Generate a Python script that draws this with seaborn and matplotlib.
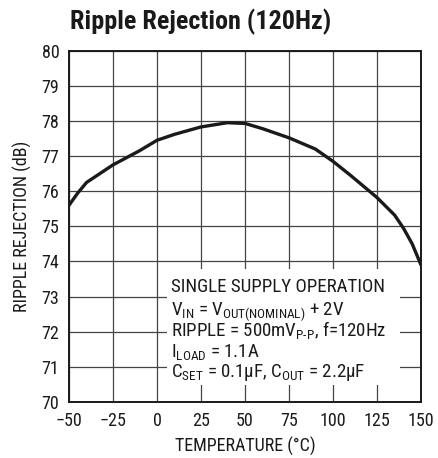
import pandas as pd
import seaborn as sns
import matplotlib.pyplot as plt
from matplotlib.patches import Rectangle

# Dados
temperatura = [-50, -45, -40, -25, -10, 0, 10, 25, 40, 50, 60, 75, 90, 100, 110, 125, 135, 140, 145, 150]
rejeicao = [75.6, 75.95, 76.25, 76.75, 77.15, 77.45, 77.62, 77.83, 77.95, 77.93, 77.78, 77.52,
            77.2, 76.85, 76.45, 75.82, 75.32, 74.95, 74.5, 73.9]
xticks = [-50, -25, 0, 25, 50, 75, 100, 125, 150]
xticklabels = ["\u221250", "\u221225", "0", "25", "50", "75", "100", "125", "150"]
yticks = list(range(70, 81))
notas = [
    "SINGLE SUPPLY OPERATION",
    r"V$_{\mathrm{IN}}$ = V$_{\mathrm{OUT(NOMINAL)}}$ + 2V",
    r"RIPPLE = 500mV$_{\mathrm{P}\text{-}\mathrm{P}}$, f=120Hz",
    r"I$_{\mathrm{LOAD}}$ = 1.1A",
    r"C$_{\mathrm{SET}}$ = 0.1μF, C$_{\mathrm{OUT}}$ = 2.2μF",
]

df = pd.DataFrame({"temp": temperatura, "rr": rejeicao})

sns.set_style("white")
fontes = ["Roboto Condensed", "Liberation Sans Narrow", "DejaVu Sans Condensed", "Liberation Sans", "DejaVu Sans"]
plt.rcParams["font.family"] = fontes
plt.rcParams["mathtext.fontset"] = "custom"
plt.rcParams["mathtext.rm"] = "Roboto Condensed"
plt.rcParams["mathtext.it"] = "Roboto Condensed"
plt.rcParams["mathtext.bf"] = "Roboto Condensed:bold"

fig = plt.figure(figsize=(4.38, 4.58), dpi=100)
ax = fig.add_axes([0.1575, 0.1223, 0.8037, 0.767])

sns.lineplot(data=df, x="temp", y="rr", ax=ax, color="#1a1a1a", linewidth=2.4, zorder=4)

ax.set_xlim(-50, 150)
ax.set_ylim(70, 80)
ax.set_xticks(xticks)
ax.set_xticklabels(xticklabels)
ax.set_yticks(yticks)
ax.grid(True, color="#444444", linewidth=0.9)
ax.set_axisbelow(True)
ax.tick_params(length=0, labelsize=13, pad=7, colors="#1a1a1a")
for s in ax.spines.values():
    s.set_color("#1a1a1a")
    s.set_linewidth(1.4)

ax.set_xlabel("TEMPERATURE (\u00b0C)", fontsize=13, color="#1a1a1a", labelpad=5)
ax.set_ylabel("RIPPLE REJECTION (dB)", fontsize=13, color="#1a1a1a", labelpad=7)

# caixa branca das condições
ax.add_patch(Rectangle((5.7, 70.48), 132.3, 3.31, facecolor="white", edgecolor="none", zorder=2))
bases = [73.14, 72.49, 71.88, 71.29, 70.72]
for txt, yb in zip(notas, bases):
    ax.text(7.8, yb, txt, fontsize=13.6, va="baseline", ha="left", color="#1a1a1a", zorder=3)

fig.text(0.16, 0.953, "Ripple Rejection (120Hz)", fontsize=18.8, fontweight="bold",
         ha="left", va="center", color="#1a1a1a")

plt.savefig("out.png", dpi=100)
